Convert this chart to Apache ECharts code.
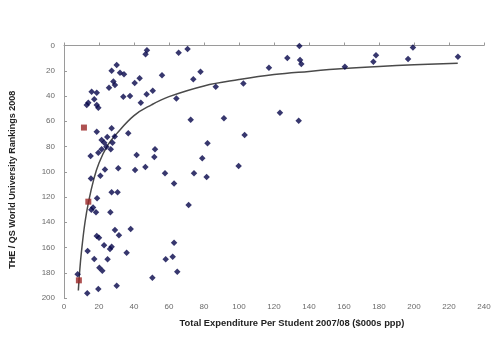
<!DOCTYPE html>
<html>
<head>
<meta charset="utf-8">
<script src="https://cdn.jsdelivr.net/npm/echarts@6/dist/echarts.min.js"></script>
<style>html,body{margin:0;padding:0;background:#fff}#c{width:500px;height:357px}</style>
</head>
<body>
<div id="c"></div>
<script>
// Expenditure per student ($000s ppp) vs ranking
var universities = [
  [30.1,15.4],[27.2,20],[32,21.5],[34.3,22.8],[28.2,28.6],[29.1,31.3],[25.7,33.4],[40.4,29.7],[43.2,26],
  [33.9,40.5],[37.7,40],[15.8,36.6],[18.7,37.4],[17.3,42.6],[13.9,45.3],[13,47.1],[18.7,47.1],[19.6,49.3],
  [43.9,45.3],[27.2,65.6],[46.6,7],[47.4,3.8],[65.5,5.7],[70.6,2.8],[56,23.5],[78,20.7],[73.9,26.8],
  [50.7,35.8],[47.2,38.7],[64.2,42],[72.4,58.8],[36.7,69.6],[82,77.5],[52,82.2],[41.5,86.7],[51.6,88.3],
  [79,89.4],[46.5,96.2],[18.7,68.3],[24.7,72.4],[29,72],[21.5,74.8],[23,77],[27.7,77],[24.2,80.2],
  [21.5,82.2],[26.7,82.2],[19.6,84.9],[15.2,87.5],[23.4,98.3],[31,97.3],[40.6,98.6],[20.8,103.1],
  [15.4,105.3],[57.7,101.2],[74.3,101.2],[81.5,104.2],[62.9,109.4],[27.2,116.3],[30.6,116.3],[71.2,126.3],
  [18.9,121],[16.6,128.4],[15.6,130],[18.3,132],[26.5,132],[29.1,146.1],[38.1,145.3],[31.4,150.3],
  [18.7,150.9],[20,152.2],[22.9,158.3],[27.2,159.4],[26.3,161.2],[35.8,164.1],[13.5,162.8],[24.9,169.4],
  [17.3,169.1],[62.9,156.2],[58.1,169.4],[62.1,167.3],[64.7,179.2],[50.5,183.9],[20.2,176],[21.9,178.4],
  [7.8,181.2],[30.1,190.3],[19.6,192.9],[13.3,196.3],[134.5,0.4],[127.6,9.9],[134.9,11.5],[135.6,14.7],
  [117.1,17.6],[160.5,16.8],[86.7,32.6],[102.5,30],[91.4,57.7],[123.4,53.2],[134.1,59.6],[103.2,70.9],
  [99.8,95.4],[178.3,7.8],[176.8,12.8],[199.4,1.5],[196.6,10.7],[225.1,8.9]
];
var highlighted = [[11.4,65],[13.9,123.7],[8.5,186]];
var trend = [
  [8.2,194],[9,178],[10,163],[12,140],[14,124],[17,106],[20,93],[25,79],[30,70],[40,55.5],[50,47],
  [60,40.5],[80,32],[100,27],[120,23],[140,20.5],[160,18.3],[180,16.6],[200,15.3],[225,14.1]
];
var xTicks = [0,20,40,60,80,100,120,140,160,180,200,220,240];
var yTicks = [0,20,40,60,80,100,120,140,160,180,200];

var chart = echarts.init(document.getElementById('c'), null, {renderer:'canvas'});
var font = 'Liberation Sans, Arial, sans-serif';
chart.setOption({
  backgroundColor:'#fff',
  animation:false,
  grid:{left:64, right:16, top:45.5, bottom:59, containLabel:false},
  xAxis:{
    type:'value', min:xTicks[0], max:xTicks[xTicks.length-1], interval:20,
    name:'Total Expenditure Per Student 2007/08 ($000s ppp)',
    nameLocation:'middle', nameGap:21,
    nameTextStyle:{fontFamily:font, fontSize:9.4, fontWeight:'bold', color:'#222', padding:[0,0,0,36]},
    axisLine:{lineStyle:{color:'#9a9a9a', width:1}},
    axisTick:{show:true, inside:true, length:3, lineStyle:{color:'#9a9a9a'}},
    axisLabel:{fontFamily:font, fontSize:8, color:'#6a6a6a', margin:5},
    splitLine:{show:false}
  },
  yAxis:{
    type:'value', inverse:true, min:yTicks[0], max:yTicks[yTicks.length-1], interval:20,
    name:'THE / QS World University Rankings 2008',
    nameLocation:'middle', nameGap:47, nameRotate:90,
    nameTextStyle:{fontFamily:font, fontSize:9, fontWeight:'bold', color:'#222', padding:[0,16,0,0]},
    axisLine:{show:true, lineStyle:{color:'#9a9a9a', width:1}},
    axisTick:{show:true, inside:true, length:3, lineStyle:{color:'#9a9a9a'}},
    axisLabel:{fontFamily:font, fontSize:8, color:'#6a6a6a', margin:9},
    splitLine:{show:false}
  },
  series:[
    {type:'line', data:trend, smooth:0.4, showSymbol:false, symbol:'none',
     lineStyle:{color:'#4a4a4a', width:1.5}, z:1, silent:true},
    {type:'scatter', data:universities, symbol:'diamond', symbolSize:6.5,
     itemStyle:{color:'#05054a'}, z:2},
    {type:'scatter', data:highlighted, symbol:'rect', symbolSize:6,
     itemStyle:{color:'#9a2626'}, z:3}
  ]
});
</script>
</body>
</html>
